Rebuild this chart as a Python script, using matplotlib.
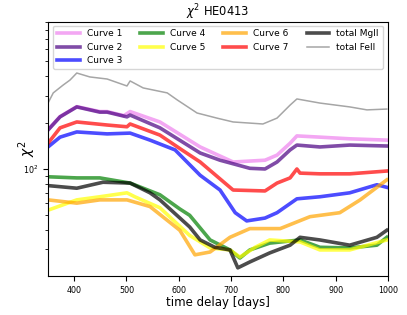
import numpy as np
import matplotlib
matplotlib.use('Agg')
import matplotlib.pyplot as plt

# values (time delay in days, chi^2)
t1 = [350, 373, 405, 449, 463, 495, 507, 564, 641, 704, 765, 788, 813, 826, 870, 927, 998]
c1 = [180, 219, 254, 236, 236, 222, 236, 202, 139, 111, 114, 123, 147, 164, 161, 157, 154]

t2 = [350, 373, 405, 449, 463, 501, 507, 564, 641, 679, 736, 765, 788, 813, 826, 870, 927, 998]
c2 = [179, 218, 253, 234, 234, 218, 224, 185, 127, 114, 101, 100, 111, 133, 143, 139, 143, 141]

t3 = [350, 373, 405, 463, 507, 545, 593, 641, 679, 708, 730, 765, 788, 826, 870, 927, 979, 998]
c3 = [139, 161, 174, 169, 171, 154, 133, 91, 73, 52, 46, 48, 52, 64, 66, 70, 79, 76]

t4 = [350, 405, 449, 507, 564, 602, 621, 660, 698, 717, 736, 774, 832, 870, 927, 979, 998]
c4 = [89, 87.5, 87.5, 81, 68, 55, 50, 34.6, 29.8, 26.4, 29.8, 33, 34.6, 31, 30.7, 32, 36]

t5 = [350, 405, 449, 501, 516, 564, 621, 660, 698, 717, 746, 774, 832, 870, 927, 998]
c5 = [54, 63, 66, 70, 66, 56, 37, 30.7, 29.8, 26.8, 31, 34.6, 33.6, 29.8, 29.8, 34.6]

t6 = [350, 405, 449, 501, 545, 602, 631, 660, 698, 736, 794, 851, 908, 947, 998]
c6 = [63, 60, 63, 63, 57, 40, 27.7, 28.9, 36, 41, 41, 49, 52, 63, 85]

t7 = [350, 373, 405, 463, 501, 507, 564, 606, 641, 704, 765, 788, 813, 826, 832, 870, 927, 998]
c7 = [147, 185, 202, 193, 188, 196, 166, 133, 111, 73, 72, 81, 87.5, 100, 94, 93, 93, 97]

tmg = [350, 405, 455, 507, 545, 564, 621, 641, 669, 698, 713, 736, 774, 813, 832, 870, 927, 979, 998]
cmg = [78, 75, 82, 81, 70, 63, 42, 34.6, 31, 29.8, 22.8, 24.9, 28.5, 32, 36, 34.6, 32, 36, 40]

tfe = [350, 360, 379, 392, 405, 430, 463, 501, 507, 532, 578, 597, 635, 673, 704, 761, 788, 813, 826, 870, 927, 960, 998]
cfe = [268, 312, 351, 378, 420, 396, 384, 346, 373, 336, 312, 281, 231, 214, 202, 196, 214, 260, 285, 268, 253, 242, 245]

series = [
    (t1, c1, 'violet', 'Curve 1'),
    (t2, c2, 'indigo', 'Curve 2'),
    (t3, c3, 'blue', 'Curve 3'),
    (t4, c4, 'green', 'Curve 4'),
    (t5, c5, 'yellow', 'Curve 5'),
    (t6, c6, 'orange', 'Curve 6'),
    (t7, c7, 'red', 'Curve 7'),
]

fig = plt.figure(figsize=(4.07, 3.15), dpi=100)
ax = fig.add_axes([0.118, 0.124, 0.835, 0.806])

for t, c, col, lab in series:
    ax.plot(t, c, '-', color=col, lw=2.6, alpha=0.7, label=lab)
ax.plot(tmg, cmg, '-', color='k', lw=2.6, alpha=0.7, label='total MgII')
ax.plot(tfe, cfe, '-', color='gray', lw=1.1, alpha=0.7, label='total FeII')

ax.set_yscale('log')
ax.set_xlim(350, 1000)
ax.set_ylim(20.2, 900)
ax.tick_params(labelsize=5.8)
ax.set_xlabel('time delay [days]', fontsize=8.5, labelpad=1)
ax.set_ylabel(r'$\chi^2$', fontsize=10)
ax.yaxis.set_label_coords(-0.03, 0.5)
ax.set_title(r'$\chi^2$ HE0413', fontsize=8.3, pad=4)
ax.legend(ncol=4, loc='upper center', fontsize=6.5, handlelength=2.5,
          borderaxespad=0.4)

fig.savefig('out.png', dpi=100)
